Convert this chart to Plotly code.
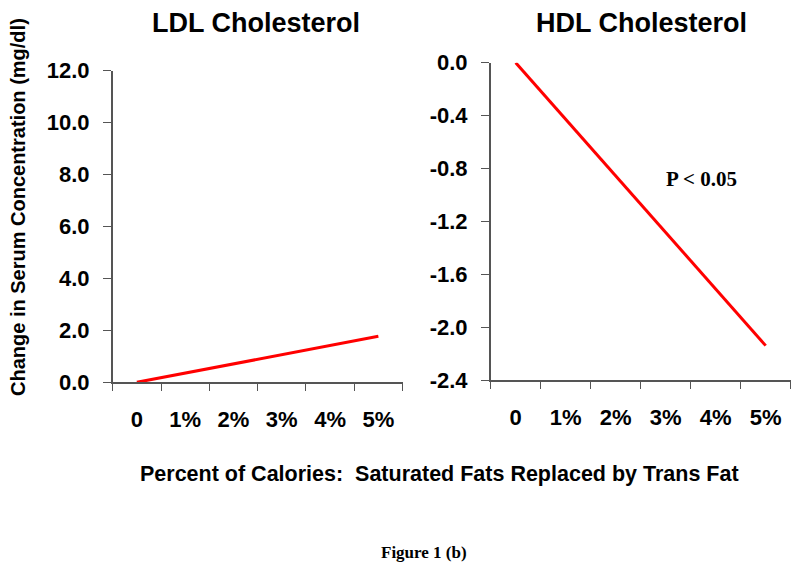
import plotly.graph_objects as go

# category labels on the shared x axis
categories = ["0", "1%", "2%", "3%", "4%", "5%"]

# LDL: change in serum concentration (mg/dl)
ldl_x = ["0", "5%"]
ldl_y = [0.0, 1.77]

# HDL: change in serum concentration (mg/dl)
hdl_x = ["0", "5%"]
hdl_y = [0.0, -2.14]

ldl_ticks = [0, 2, 4, 6, 8, 10, 12]
ldl_ticktext = ["0.0", "2.0", "4.0", "6.0", "8.0", "10.0", "12.0"]
hdl_ticks = [0, -0.4, -0.8, -1.2, -1.6, -2.0, -2.4]
hdl_ticktext = ["0.0", "-0.4", "-0.8", "-1.2", "-1.6", "-2.0", "-2.4"]

sans = "Liberation Sans, Arial, sans-serif"
serif = "Liberation Serif, Times New Roman, serif"
axis_grey = "#555555"

# the page body has an 8px margin, so the figure is a bit smaller and
# pixel positions from the reference are shifted by that much
W, H, OFF = 792, 558, 8


def fx(px):
    return (px - OFF) / W


def fy(py):
    return 1 - (py - OFF) / H


fig = go.Figure()
fig.add_trace(go.Scatter(x=ldl_x, y=ldl_y, mode="lines",
                         line=dict(color="#ff0000", width=3),
                         xaxis="x", yaxis="y", showlegend=False))
fig.add_trace(go.Scatter(x=hdl_x, y=hdl_y, mode="lines",
                         line=dict(color="#ff0000", width=3),
                         xaxis="x2", yaxis="y2", showlegend=False))

xcommon = dict(type="category", categoryorder="array", categoryarray=categories,
               range=[-0.5, 5.5], tickson="boundaries", ticks="outside", ticklen=7,
               tickcolor=axis_grey, showline=True, linecolor=axis_grey, linewidth=1.5,
               showgrid=False, zeroline=False, ticklabelstandoff=17, automargin=False,
               tickfont=dict(family=sans, size=22, color="black", weight="bold"))
ycommon = dict(ticks="outside", ticklen=8, tickcolor=axis_grey, showline=True,
               linecolor=axis_grey, linewidth=1.5, showgrid=False, zeroline=False,
               ticklabelstandoff=9, automargin=False,
               tickfont=dict(family=sans, size=22, color="black", weight="bold"))

fig.update_layout(
    template="none",
    width=W, height=H,
    margin=dict(l=0, r=0, t=0, b=0),
    paper_bgcolor="white", plot_bgcolor="white",
    xaxis=dict(domain=[fx(112.7), fx(402.5)], anchor="y", **xcommon),
    yaxis=dict(domain=[fy(382.3), fy(70.7)], anchor="x", range=[0, 12],
               tickvals=ldl_ticks, ticktext=ldl_ticktext, **ycommon),
    xaxis2=dict(domain=[fx(490.7), fx(790.7)], anchor="y2", **xcommon),
    yaxis2=dict(domain=[fy(380), fy(62.7)], anchor="x2", range=[-2.4, 0],
                tickvals=hdl_ticks, ticktext=hdl_ticktext, **ycommon),
)


def label(text, px, py, font, angle=0, pad=1):
    fig.add_annotation(text=text, x=fx(px), y=fy(py), xref="paper", yref="paper",
                       xanchor="center", yanchor="middle", textangle=angle,
                       borderpad=pad, showarrow=False, font=font)


title_font = dict(family=sans, size=27, color="black", weight="bold")
label("LDL Cholesterol", 256, 23, title_font, pad=0)
label("HDL Cholesterol", 641, 23, title_font, pad=0)
label("Change in Serum Concentration (mg/dl)", 18, 207,
      dict(family=sans, size=20, color="black", weight="bold"), angle=-90)
label("Percent of Calories:&nbsp; Saturated Fats Replaced by Trans Fat", 439, 474,
      dict(family=sans, size=21.5, color="black", weight="bold"))
label("P < 0.05", 701, 179, dict(family=serif, size=21, color="black", weight="bold"))
label("Figure 1 (b)", 424, 552, dict(family=serif, size=17, color="black", weight="bold"))

fig.write_html("out.html")
